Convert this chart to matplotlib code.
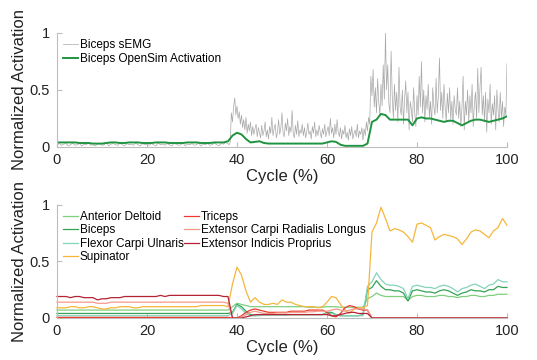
import numpy as np
import matplotlib
matplotlib.use("Agg")
import matplotlib.pyplot as plt

plt.rcParams['font.family'] = ['Liberation Sans', 'DejaVu Sans']

# ---- top panel data ----
# sEMG sampled every 0.5 % up to 38 %, then every 0.25 %
emg_x = np.concatenate([np.arange(0, 38, 0.5), np.arange(38, 100.01, 0.25)])
emg = [
    0.02, 0.03, 0.015, 0.025, 0.03, 0.01, 0.02, 0.035, 0.015, 0.02,
    0.03, 0.01, 0.025, 0.02, 0.035, 0.015, 0.02, 0.01, 0.025, 0.03,
    0.015, 0.02, 0.04, 0.01, 0.025, 0.03, 0.02, 0.015, 0.035, 0.02,
    0.01, 0.03, 0.02, 0.025, 0.015, 0.035, 0.02, 0.01, 0.03, 0.02,
    0.025, 0.015, 0.03, 0.02, 0.01, 0.035, 0.02, 0.025, 0.015, 0.03,
    0.02, 0.01, 0.03, 0.025, 0.015, 0.02, 0.035, 0.01, 0.025, 0.02,
    0.03, 0.015, 0.02, 0.035, 0.01, 0.025, 0.02, 0.03, 0.015, 0.02,
    0.035, 0.02, 0.01, 0.03, 0.025, 0.04,
    # 38 .. 99.75, four samples per percent
    0.03, 0.02, 0.04, 0.30,
    0.22, 0.35, 0.43, 0.28,
    0.36, 0.25, 0.31, 0.20,
    0.28, 0.17, 0.24, 0.15,
    0.26, 0.12, 0.20, 0.14,
    0.22, 0.10, 0.18, 0.11,
    0.16, 0.20, 0.09, 0.17,
    0.12, 0.08, 0.19, 0.10,
    0.14, 0.22, 0.09, 0.15,
    0.07, 0.18, 0.12, 0.26,
    0.10, 0.16, 0.20, 0.08,
    0.13, 0.24, 0.11, 0.17,
    0.30, 0.12, 0.09, 0.21,
    0.14, 0.25, 0.10, 0.18,
    0.13, 0.32, 0.12, 0.08,
    0.19, 0.11, 0.23, 0.09,
    0.15, 0.12, 0.20, 0.10,
    0.17, 0.08, 0.13, 0.21,
    0.11, 0.14, 0.07, 0.18,
    0.12, 0.22, 0.09, 0.15,
    0.10, 0.19, 0.13, 0.08,
    0.16, 0.11, 0.20, 0.09,
    0.14, 0.18, 0.10, 0.25,
    0.12, 0.17, 0.08, 0.20,
    0.11, 0.24, 0.13, 0.09,
    0.17, 0.07, 0.15, 0.11,
    0.19, 0.08, 0.13, 0.06,
    0.16, 0.10, 0.18, 0.07,
    0.12, 0.15, 0.09, 0.20,
    0.08, 0.14, 0.11, 0.17,
    0.06, 0.16, 0.10, 0.22,
    0.14, 0.26, 0.20, 0.62,
    0.45, 0.68, 0.35, 0.52,
    0.30, 0.60, 0.40, 0.28,
    0.55, 0.36, 0.72, 0.42,
    1.00, 0.50, 0.72, 0.38,
    0.30, 0.84, 0.45, 0.25,
    0.55, 0.32, 0.48, 0.22,
    0.70, 0.35, 0.28, 0.50,
    0.20, 0.42, 0.58, 0.30,
    0.48, 0.15, 0.40, 0.33,
    0.22, 0.52, 0.30, 0.18,
    0.45, 0.28, 0.62, 0.35,
    0.75, 0.30, 0.50, 0.22,
    0.45, 0.33, 0.55, 0.26,
    0.40, 0.20, 0.52, 0.35,
    0.28, 0.60, 0.30, 0.45,
    0.78, 0.32, 0.48, 0.25,
    0.55, 0.35, 0.22, 0.47,
    0.30, 0.52, 0.24, 0.40,
    0.20, 0.45, 0.33, 0.28,
    0.52, 0.25, 0.40, 0.18,
    0.35, 0.62, 0.15, 0.40,
    0.28, 0.50, 0.22, 0.45,
    0.30, 0.55, 0.18, 0.38,
    0.48, 0.25, 0.69, 0.30,
    0.52, 0.70, 0.28, 0.45,
    0.22, 0.48, 0.13, 0.42,
    0.30, 0.55, 0.20, 0.38,
    0.28, 0.45, 0.15, 0.50,
    0.33, 0.22, 0.48, 0.25,
    0.40, 0.18, 0.35, 0.28,
    0.73,
]

cycle = np.arange(0, 101)
act = [
    0.04, 0.04, 0.04, 0.04, 0.04, 0.035, 0.035, 0.035, 0.03, 0.03,
    0.03, 0.035, 0.04, 0.04, 0.035, 0.035, 0.04, 0.04, 0.04, 0.035,
    0.035, 0.035, 0.04, 0.04, 0.04, 0.035, 0.035, 0.035, 0.035, 0.04,
    0.04, 0.04, 0.035, 0.035, 0.035, 0.04, 0.04, 0.04, 0.05, 0.10,
    0.125, 0.11, 0.07, 0.04, 0.045, 0.05, 0.035, 0.03, 0.03, 0.03,
    0.03, 0.03, 0.03, 0.03, 0.03, 0.03, 0.03, 0.03, 0.03, 0.03,
    0.04, 0.05, 0.045, 0.02, 0.01, 0.01, 0.01, 0.01, 0.01, 0.03,
    0.22, 0.24, 0.29, 0.28, 0.24, 0.24, 0.24, 0.24, 0.24, 0.19,
    0.25, 0.26, 0.25, 0.25, 0.24, 0.23, 0.22, 0.23, 0.23, 0.21,
    0.19, 0.21, 0.23, 0.24, 0.24, 0.23, 0.22, 0.23, 0.24, 0.25,
    0.27,
]

# ---- bottom panel data ----
ant_deltoid = [0.07] * 39 + [
    0.10, 0.13, 0.12, 0.11, 0.10, 0.10, 0.10, 0.10, 0.10, 0.10,
    0.10, 0.10, 0.10, 0.10, 0.10, 0.10, 0.10, 0.095, 0.095, 0.095,
    0.095, 0.10, 0.10, 0.10, 0.095, 0.095, 0.095, 0.095, 0.095, 0.095,
    0.17, 0.19, 0.22, 0.20, 0.19, 0.19, 0.19, 0.19, 0.19, 0.155,
    0.19, 0.20, 0.20, 0.19, 0.19, 0.19, 0.20, 0.20, 0.19, 0.19,
    0.18, 0.19, 0.19, 0.20, 0.20, 0.19, 0.19, 0.20, 0.20, 0.21,
    0.21, 0.21,
]
biceps = [0.04] * 39 + [
    0.05, 0.12, 0.10, 0.06, 0.03, 0.02, 0.03, 0.03, 0.03, 0.03,
    0.03, 0.03, 0.03, 0.03, 0.03, 0.03, 0.03, 0.03, 0.03, 0.03,
    0.03, 0.05, 0.05, 0.03, 0.02, 0.02, 0.02, 0.02, 0.02, 0.03,
    0.25, 0.27, 0.33, 0.28, 0.25, 0.25, 0.24, 0.24, 0.22, 0.15,
    0.24, 0.25, 0.24, 0.23, 0.23, 0.22, 0.24, 0.25, 0.24, 0.22,
    0.20, 0.22, 0.23, 0.25, 0.24, 0.24, 0.23, 0.25, 0.25, 0.28,
    0.27, 0.27,
]
fcu = [0.02] * 39 + [
    0.04, 0.11, 0.08, 0.04, 0.02, 0.02, 0.02, 0.025, 0.025, 0.025,
    0.025, 0.025, 0.025, 0.03, 0.03, 0.03, 0.03, 0.03, 0.03, 0.03,
    0.03, 0.04, 0.04, 0.03, 0.02, 0.02, 0.02, 0.02, 0.02, 0.02,
    0.28, 0.32, 0.40, 0.34, 0.30, 0.29, 0.29, 0.28, 0.26, 0.17,
    0.28, 0.29, 0.28, 0.27, 0.27, 0.26, 0.28, 0.29, 0.28, 0.26,
    0.23, 0.26, 0.27, 0.29, 0.30, 0.28, 0.26, 0.29, 0.30, 0.34,
    0.32, 0.32,
]
supinator = [
    0.09, 0.09, 0.09, 0.10, 0.10, 0.09, 0.09, 0.10, 0.10, 0.09,
    0.08, 0.08, 0.09, 0.09, 0.10, 0.10, 0.10, 0.09, 0.09, 0.10,
    0.10, 0.10, 0.10, 0.10, 0.10, 0.10, 0.10, 0.10, 0.10, 0.10,
    0.10, 0.10, 0.11, 0.11, 0.11, 0.11, 0.11, 0.11, 0.10, 0.30,
    0.45, 0.38, 0.24, 0.14, 0.18, 0.14, 0.12, 0.12, 0.13, 0.12,
    0.16, 0.14, 0.14, 0.12, 0.11, 0.10, 0.10, 0.10, 0.09, 0.10,
    0.14, 0.19, 0.18, 0.12, 0.07, 0.04, 0.08, 0.09, 0.09, 0.11,
    0.76, 0.84, 0.98, 0.88, 0.77, 0.79, 0.78, 0.76, 0.72, 0.67,
    0.83, 0.84, 0.82, 0.80, 0.69, 0.72, 0.74, 0.73, 0.72, 0.70,
    0.65, 0.70, 0.76, 0.78, 0.77, 0.74, 0.71, 0.77, 0.80, 0.88,
    0.82,
]
triceps = [0.005] * 39 + [
    0.0, 0.0, 0.02, 0.05, 0.07, 0.08, 0.07, 0.06, 0.05, 0.05,
    0.05, 0.05, 0.05, 0.06, 0.06, 0.06, 0.06, 0.07, 0.07, 0.07,
    0.07, 0.05, 0.02, 0.01, 0.04, 0.09, 0.11, 0.10, 0.08, 0.07,
    0.07,
] + [0.0] * 31
ecrl = [
    0.14, 0.14, 0.14, 0.14, 0.14, 0.14, 0.14, 0.14, 0.14, 0.13,
    0.13, 0.13, 0.14, 0.14, 0.14, 0.14, 0.14, 0.14, 0.14, 0.14,
    0.14, 0.14, 0.14, 0.14, 0.14, 0.14, 0.14, 0.14, 0.14, 0.14,
    0.14, 0.14, 0.14, 0.14, 0.14, 0.14, 0.14, 0.14, 0.13, 0.0,
    0.0, 0.01, 0.03, 0.05, 0.06, 0.05, 0.04, 0.04, 0.04, 0.045,
    0.045, 0.045, 0.05, 0.05, 0.05, 0.05, 0.055, 0.055, 0.06, 0.06,
    0.06, 0.07, 0.08, 0.07, 0.06, 0.07, 0.08, 0.08, 0.08, 0.07,
] + [0.0] * 31
eip = [
    0.19, 0.19, 0.19, 0.18, 0.19, 0.19, 0.18, 0.18, 0.18, 0.16,
    0.17, 0.17, 0.18, 0.18, 0.18, 0.19, 0.19, 0.19, 0.19, 0.19,
    0.19, 0.19, 0.19, 0.20, 0.19, 0.20, 0.20, 0.20, 0.20, 0.20,
    0.20, 0.20, 0.20, 0.20, 0.20, 0.20, 0.20, 0.19, 0.19, 0.0,
    0.0, 0.0, 0.01, 0.02, 0.03, 0.03, 0.03, 0.03, 0.03, 0.03,
    0.03, 0.03, 0.03, 0.03, 0.03, 0.03, 0.03, 0.03, 0.03, 0.03,
    0.03, 0.02, 0.02, 0.03, 0.04, 0.05, 0.05, 0.04, 0.04, 0.04,
] + [0.0] * 31

muscle_names = ['Anterior Deltoid', 'Biceps', 'Flexor Carpi Ulnaris', 'Supinator',
                'Triceps', 'Extensor Carpi Radialis Longus', 'Extensor Indicis Proprius']
muscle_data = [ant_deltoid, biceps, fcu, supinator, triceps, ecrl, eip]
muscle_colors = ['#7fcf7f', '#34a356', '#86d3bd', '#f5b73b',
                 '#ec3b2e', '#f7998a', '#b52333']

axis_gray = '#bdbdbd'


def style_axes(ax):
    for side in ['top', 'right']:
        ax.spines[side].set_visible(False)
    for side in ['left', 'bottom']:
        ax.spines[side].set_color(axis_gray)
        ax.spines[side].set_linewidth(0.8)
    ax.set_xlim(0, 100)
    ax.set_ylim(0, 1)
    ax.set_xticks([0, 20, 40, 60, 80, 100])
    ax.set_yticks([0, 0.5, 1])
    ax.set_yticklabels(['0', '0.5', '1'])
    ax.tick_params(direction='in', length=3.5, width=0.8, color=axis_gray,
                   labelsize=10.5, labelcolor='#222222')
    ax.tick_params(axis='x', pad=4)
    ax.tick_params(axis='y', pad=5)
    ax.set_xlabel('Cycle (%)', fontsize=12, labelpad=2, color='#222222')
    ax.set_ylabel('Normalized Activation', fontsize=12, labelpad=2, color='#222222')


fig = plt.figure(figsize=(5.37, 3.6), dpi=100)

ax1 = fig.add_axes([0.1061, 0.5917, 0.838, 0.3167])
ax1.plot(emg_x, emg, color='#a8a8a8', lw=0.5, label='Biceps sEMG')
ax1.plot(cycle, act, color='#1f9440', lw=1.4, label='Biceps OpenSim Activation')
style_axes(ax1)
ax1.legend(loc='upper left', bbox_to_anchor=(0.0, 1.0), frameon=False,
           fontsize=8.5, handlelength=1.3, handletextpad=0.15,
           labelspacing=0.2, borderaxespad=0.1)

ax2 = fig.add_axes([0.1061, 0.1167, 0.838, 0.314])
for name, vals, col in zip(muscle_names, muscle_data, muscle_colors):
    ax2.plot(cycle, vals, color=col, lw=0.9, label=name, clip_on=False)
style_axes(ax2)
ax2.legend(loc='upper left', bbox_to_anchor=(0.0, 1.0), frameon=False, ncol=2,
           fontsize=8.5, handlelength=1.3, handletextpad=0.15,
           labelspacing=0.12, columnspacing=0.0, borderaxespad=0.1)

fig.savefig('out.png', dpi=100)
